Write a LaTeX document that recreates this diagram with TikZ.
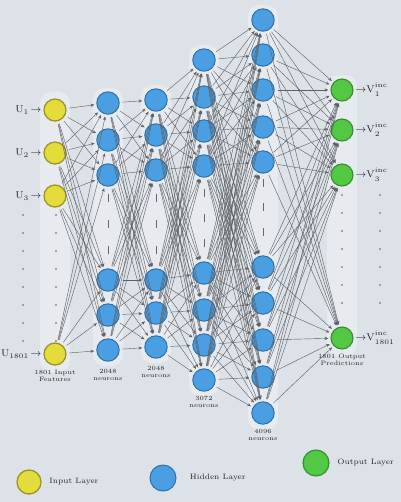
\documentclass[tikz,border=0pt]{standalone}
\usepackage{amsmath}
\usetikzlibrary{arrows.meta}

\definecolor{bg}{HTML}{DDE2E8}
\definecolor{yel}{HTML}{E4DC3A}
\definecolor{yeld}{HTML}{9A9228}
\definecolor{blu}{HTML}{4A9FE2}
\definecolor{blud}{HTML}{2F6FA8}
\definecolor{grn}{HTML}{52C844}
\definecolor{grnd}{HTML}{33902B}
\definecolor{wire}{HTML}{5C6064}

\newcommand{\vout}[1]{$\rightarrow$V$^{\text{inc}}_{\raisebox{-1.2pt}{$\scriptstyle #1$}}$}

\tikzset{
  inp/.style={circle,draw=yeld,fill=yel,line width=0.9pt,minimum size=0.55cm,inner sep=0pt},
  hid/.style={circle,draw=blud,fill=blu,line width=0.7pt,minimum size=0.56cm,inner sep=0pt},
  outp/.style={circle,draw=grnd,fill=grn,line width=0.8pt,minimum size=0.55cm,inner sep=0pt},
  conn/.style={draw=wire,line width=0.3pt,-{Stealth[length=2.6pt,width=2.2pt]},shorten <=2pt,shorten >=1.5pt},
  lbl/.style={font=\fontsize{4.5}{5}\selectfont,align=center,text=black!85,inner sep=1pt},
  io/.style={font=\fontsize{7}{8}\selectfont,text=black!85,inner sep=1pt},
  key/.style={font=\fontsize{5.5}{6}\selectfont,text=black!85,anchor=west},
  vbar/.style={draw=black!60,line width=0.6pt},
  band/.style={fill=white,opacity=0.3,rounded corners=8pt}
}

\begin{document}
\begin{tikzpicture}[x=0.025cm,y=-0.025cm]

  %\draw [help lines,step=20] (0,0) grid (401,502);
  \fill[bg] (0,0) rectangle (401,502);
  \useasboundingbox (0,0) rectangle (401,502);

  % pale bands behind the layers
  \fill[band] (40,92) rectangle (70,372);
  \fill[band] (93,88) rectangle (123,366);
  \fill[band] (141,85) rectangle (171,363);
  \fill[band] (189,45) rectangle (219,396);
  \fill[band] (248,5) rectangle (278,430);
  \fill[band] (327,75) rectangle (357,356);

  % layers
  \foreach \y [count=\i] in {110,153,196,354}
    \node (in\i) [inp] at (55,\y) {};
  \foreach \y [count=\i] in {103,140,175,280,315,350}
    \node (ha\i) [hid] at (108,\y) {};
  \foreach \y [count=\i] in {100,135,170,280,313,347}
    \node (hb\i) [hid] at (156,\y) {};
  \foreach \y [count=\i] in {60,97,131,166,273,310,345,380}
    \node (hc\i) [hid] at (204,\y) {};
  \foreach \y [count=\i] in {20,55,90,127,162,267,303,340,377,413}
    \node (hd\i) [hid] at (263,\y) {};
  \foreach \y [count=\i] in {90,130,175,338}
    \node (out\i) [outp] at (342,\y) {};

  % connections
  \foreach \i in {1,...,4}
    \foreach \j in {1,...,6}
      \draw[conn] (in\i) -- (ha\j);
  \foreach \i in {1,...,6}
    \foreach \j in {1,...,6}
      \draw[conn] (ha\i) -- (hb\j);
  \foreach \i in {1,...,6}
    \foreach \j in {1,...,8}
      \draw[conn] (hb\i) -- (hc\j);
  \foreach \i in {1,...,8}
    \foreach \j in {1,...,10}
      \draw[conn] (hc\i) -- (hd\j);
  \foreach \i in {1,...,10}
    \foreach \j in {1,...,4}
      \draw[conn] (hd\i) -- (out\j);

  % gaps in the hidden layers
  \foreach \y in {198,224,250} {
    \draw[vbar] (108,\y-4) -- (108,\y+4);
    \draw[vbar] (156,\y-4) -- (156,\y+4);
  }
  \foreach \y in {193,218,243}
    \draw[vbar] (204,\y-4) -- (204,\y+4);
  \foreach \y in {183,207,232}
    \draw[vbar] (263,\y-4) -- (263,\y+4);

  % dotted gaps at input and output
  \foreach \y in {215,233,...,341} {
    \fill[black!65] (23,\y) circle (0.7pt);
    \fill[black!65] (56,\y) circle (0.7pt);
  }
  \foreach \y in {195,213,...,320} {
    \fill[black!65] (342,\y) circle (0.7pt);
    \fill[black!65] (380,\y) circle (0.7pt);
  }

  % input and output names
  \node (u1) [io,anchor=east] at (in1.west) {U$_1\!\rightarrow$};
  \node (u2) [io,anchor=east] at (in2.west) {U$_2\!\rightarrow$};
  \node (u3) [io,anchor=east] at (in3.west) {U$_3\!\rightarrow$};
  \node (u4) [io,anchor=east] at (in4.west) {U$_{1801}\!\rightarrow$};
  \node (v1) [io,anchor=west] at (out1.east) {\vout{1}};
  \node (v2) [io,anchor=west] at (out2.east) {\vout{2}};
  \node (v3) [io,anchor=west] at (out3.east) {\vout{3}};
  \node (v4) [io,anchor=west] at (out4.east) {\vout{1801}};

  % layer sizes
  \node (la) [lbl,anchor=north] at ([yshift=-2pt]in4.south) {1801 Input\\Features};
  \node (lb) [lbl,anchor=north] at ([yshift=-4pt]ha6.south) {2048\\neurons};
  \node (lc) [lbl,anchor=north] at ([yshift=-4pt]hb6.south) {2048\\neurons};
  \node (ld) [lbl,anchor=north] at ([yshift=-2pt]hc8.south) {3072\\neurons};
  \node (le) [lbl,anchor=north] at ([yshift=-2pt]hd10.south) {4096\\neurons};
  \node (lf) [lbl,anchor=north] at ([yshift=-2pt]out4.south) {1801 Output\\Predictions};

  % legend
  \node (ki) [inp,minimum size=0.6cm] at (29,482) {};
  \node (kit) [key] at ([xshift=2pt]ki.east) {Input Layer};
  \node (kh) [hid,minimum size=0.65cm] at (163,478) {};
  \node (kht) [key] at ([xshift=6pt]kh.east) {Hidden Layer};
  \node (ko) [outp,minimum size=0.65cm] at (316,463) {};
  \node (kot) [key] at ([xshift=2pt]ko.east) {Output Layer};

\end{tikzpicture}
\end{document}
